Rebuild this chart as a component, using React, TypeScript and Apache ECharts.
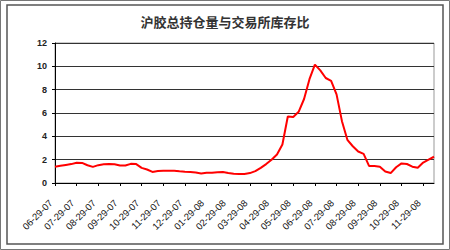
import React, { useEffect, useRef } from "react";
import * as echarts from "echarts";

const title = "沪胶总持仓量与交易所库存比";

const monthLabels = [
  "06-29-07", "07-29-07", "08-29-07", "09-29-07", "10-29-07", "11-29-07",
  "12-29-07", "01-29-08", "02-29-08", "03-29-08", "04-29-08", "05-29-08",
  "06-29-08", "07-29-08", "08-29-08", "09-29-08", "10-29-08", "11-29-08",
];

const ratio = [
  1.40, 1.48, 1.55, 1.62, 1.74, 1.72, 1.52, 1.38, 1.53, 1.60,
  1.63, 1.61, 1.50, 1.50, 1.64, 1.62, 1.30, 1.16, 0.95, 1.02,
  1.05, 1.05, 1.05, 1.00, 0.97, 0.95, 0.90, 0.82, 0.88, 0.88,
  0.93, 0.95, 0.86, 0.79, 0.77, 0.78, 0.85, 1.02, 1.30, 1.62,
  2.00, 2.45, 3.30, 5.70, 5.65, 6.10, 7.20, 8.90, 10.15, 9.65,
  9.00, 8.75, 7.60, 5.30, 3.70, 3.15, 2.70, 2.50, 1.46, 1.46,
  1.40, 0.98, 0.85, 1.35, 1.68, 1.63, 1.40, 1.30, 1.75, 2.00,
  2.25,
];

const pointsPerLabel = 4;
const yTicks = [0, 2, 4, 6, 8, 10, 12];

export default function App() {
  const ref = useRef<HTMLDivElement>(null);
  useEffect(() => {
    if (!ref.current) return;
    const chart = echarts.init(ref.current, null, { renderer: "svg" });
    const categories = ratio.map((_, i) => "p" + i);
    chart.setOption({
      animation: false,
      backgroundColor: "#ffffff",
      title: {
        text: title,
        left: "center",
        top: 10,
        textStyle: {
          fontFamily: "Noto Sans CJK SC",
          fontSize: 13,
          fontWeight: "bold",
          color: "#333333",
        },
      },
      graphic: [
        {
          type: "rect",
          shape: { x: 0.5, y: 0.5, width: 449, height: 249 },
          style: { fill: "none", stroke: "#777777", lineWidth: 1 },
          silent: true,
        },
        {
          type: "rect",
          shape: { x: 7, y: 5, width: 436, height: 239 },
          style: { fill: "none", stroke: "#555555", lineWidth: 1.5 },
          silent: true,
        },
      ],
      grid: {
        left: 55,
        right: 16,
        top: 43,
        bottom: 67,
        show: true,
        borderColor: "#999999",
        borderWidth: 1,
      },
      xAxis: {
        type: "category",
        boundaryGap: false,
        data: categories,
        axisLine: { lineStyle: { color: "#000000", width: 1 } },
        axisTick: {
          show: true,
          interval: pointsPerLabel - 1,
          length: 3,
          lineStyle: { color: "#000000" },
        },
        axisLabel: {
          interval: pointsPerLabel - 1,
          hideOverlap: false,
          rotate: 45,
          margin: 14,
          padding: [0, 6, 0, 0],
          fontFamily: "Liberation Sans",
          fontSize: 9.5,
          color: "#111111",
          formatter: (_v: string, idx: number) =>
            idx % pointsPerLabel === 0 ? monthLabels[idx / pointsPerLabel] ?? "" : "",
        },
        splitLine: { show: false },
      },
      yAxis: {
        type: "value",
        min: yTicks[0],
        max: yTicks[yTicks.length - 1],
        interval: 2,
        axisLine: { show: true, lineStyle: { color: "#000000", width: 1 } },
        axisTick: { show: true, length: 3, lineStyle: { color: "#000000" } },
        axisLabel: {
          margin: 8,
          fontFamily: "Liberation Sans",
          fontSize: 9,
          fontWeight: "bold",
          color: "#222222",
        },
        splitLine: { show: true, lineStyle: { color: "#333333", width: 1 } },
      },
      series: [
        {
          type: "line",
          data: ratio,
          symbol: "none",
          lineStyle: { color: "#ff0000", width: 2 },
        },
      ],
    });
    return () => chart.dispose();
  }, []);
  return (
    <div
      ref={ref}
      style={{ position: "fixed", left: 0, top: 0, width: 450, height: 250 }}
    />
  );
}
